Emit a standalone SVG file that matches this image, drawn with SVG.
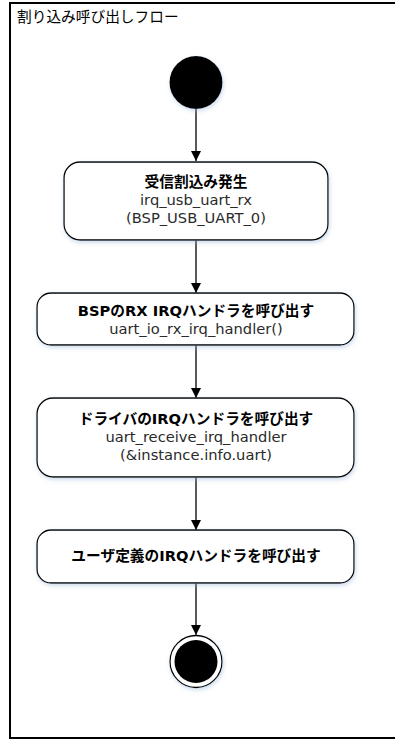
<svg xmlns="http://www.w3.org/2000/svg" width="395" height="740" viewBox="0 0 395 740">
<style>
text{font-family:"DejaVu Sans","Noto Sans CJK JP",sans-serif;font-size:14.7px;fill:#2a2a2a;text-anchor:middle}
.b{font-weight:bold;fill:#000}
.t{text-anchor:start;fill:#000}
.box{fill:#fff;stroke:#000;stroke-width:1.3}
.ln{stroke:#000;stroke-width:1.3;fill:none;marker-end:url(#ah)}
</style>
<defs>
<marker id="ah" viewBox="0 0 10 10" refX="10" refY="5" markerWidth="10" markerHeight="10" markerUnits="userSpaceOnUse" orient="auto">
<path d="M0,0 L10,5 L0,10 z" fill="#000"/>
</marker>
<filter id="sh" x="-10%" y="-10%" width="120%" height="130%">
<feDropShadow dx="1" dy="2" stdDeviation="2" flood-color="#9bb8d8" flood-opacity="0.5"/>
</filter>
</defs>
<g id="frame">
<rect x="10" y="3" width="420" height="735" fill="#fff" stroke="#000" stroke-width="2"/>
<text class="t" x="17" y="22">割り込み呼び出しフロー</text>
</g>
<g id="connectors">
<line class="ln" x1="196" y1="109" x2="196" y2="161"/>
<line class="ln" x1="196" y1="240" x2="196" y2="293"/>
<line class="ln" x1="196" y1="345" x2="196" y2="398"/>
<line class="ln" x1="196" y1="477" x2="196" y2="530"/>
<line class="ln" x1="196" y1="583" x2="196" y2="635"/>
</g>
<g id="start">
<circle cx="196" cy="82.5" r="26.5" fill="#000" filter="url(#sh)"/>
</g>
<g id="n1">
<rect class="box" x="64" y="162" width="264" height="78" rx="16" filter="url(#sh)"/>
<text class="b" x="196" y="187">受信割込み発生</text>
<text x="196" y="205">irq_usb_uart_rx</text>
<text x="196" y="223">(BSP_USB_UART_0)</text>
</g>
<g id="n2">
<rect class="box" x="37" y="293" width="317" height="52" rx="14" filter="url(#sh)"/>
<text class="b" x="196" y="316">BSPのRX IRQハンドラを呼び出す</text>
<text x="196" y="334">uart_io_rx_irq_handler()</text>
</g>
<g id="n3">
<rect class="box" x="37" y="398" width="317" height="79" rx="16" filter="url(#sh)"/>
<text class="b" x="196" y="424">ドライバのIRQハンドラを呼び出す</text>
<text x="196" y="442">uart_receive_irq_handler</text>
<text x="196" y="460">(&amp;instance.info.uart)</text>
</g>
<g id="n4">
<rect class="box" x="37" y="530" width="317" height="53" rx="14" filter="url(#sh)"/>
<text class="b" x="196" y="561">ユーザ定義のIRQハンドラを呼び出す</text>
</g>
<g id="end">
<circle cx="196" cy="661.5" r="26" fill="#fff" stroke="#000" stroke-width="1.3" filter="url(#sh)"/>
<circle cx="196" cy="661.5" r="21.5" fill="#000"/>
</g>
</svg>
